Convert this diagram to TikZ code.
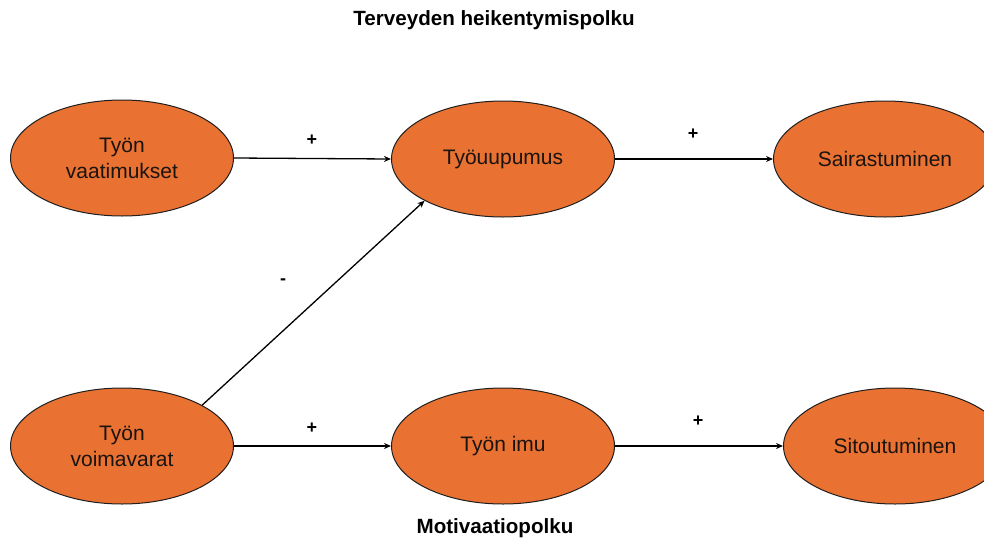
\documentclass[tikz,border=0pt]{standalone}
\usepackage{fontspec}
\setmainfont{Liberation Sans}
\usetikzlibrary{arrows.meta,shapes.geometric}
\definecolor{orng}{HTML}{E97132}
\definecolor{edge}{HTML}{1F1F1F}
\definecolor{txt}{HTML}{1A1410}
\begin{document}
\begin{tikzpicture}[x=1pt,y=-1pt,
  oval/.style={ellipse,draw=edge,line width=1pt,fill=orng,minimum width=223pt,minimum height=116pt,inner sep=0pt,
    font=\fontsize{21}{26}\selectfont,text=txt,align=center},
  conn/.style={draw=black,line width=1.3pt,-{Stealth[length=7pt,width=6pt]}},
  sign/.style={font=\fontsize{18}{20}\selectfont\bfseries,text=black},
  ttl/.style={font=\fontsize{20.6}{24}\selectfont\bfseries,text=black}]
\useasboundingbox (0,0) rectangle (984,541);
\node[ttl] (t1) at (494,20) {Terveyden heikentymispolku};
\node[ttl] (t2) at (495,528) {Motivaatiopolku};
\node[oval] (a) at (122,158) {Työn\\vaatimukset};
\node[oval] (b) at (503,159) {Työuupumus};
\node[oval] (c) at (885,159) {Sairastuminen};
\node[oval] (d) at (122,446) {Työn\\voimavarat};
\node[oval] (e) at (503,446) {Työn imu};
\node[oval] (f) at (895,446) {Sitoutuminen};
\draw[conn] (a.east) -- (b.west);
\draw[conn] (b.east) -- (c.west);
\draw[conn] (d.east) -- (e.west);
\draw[conn] (e.east) -- (f.west);
\draw[conn] (d.27) -- (b.208);
\node[sign] (p1) at (312,140) {+};
\node[sign] (p2) at (693,134) {+};
\node[sign] (p3) at (312,428) {+};
\node[sign] (p4) at (698,421) {+};
\node[sign] (m1) at (283,282) {-};
\end{tikzpicture}
\end{document}
